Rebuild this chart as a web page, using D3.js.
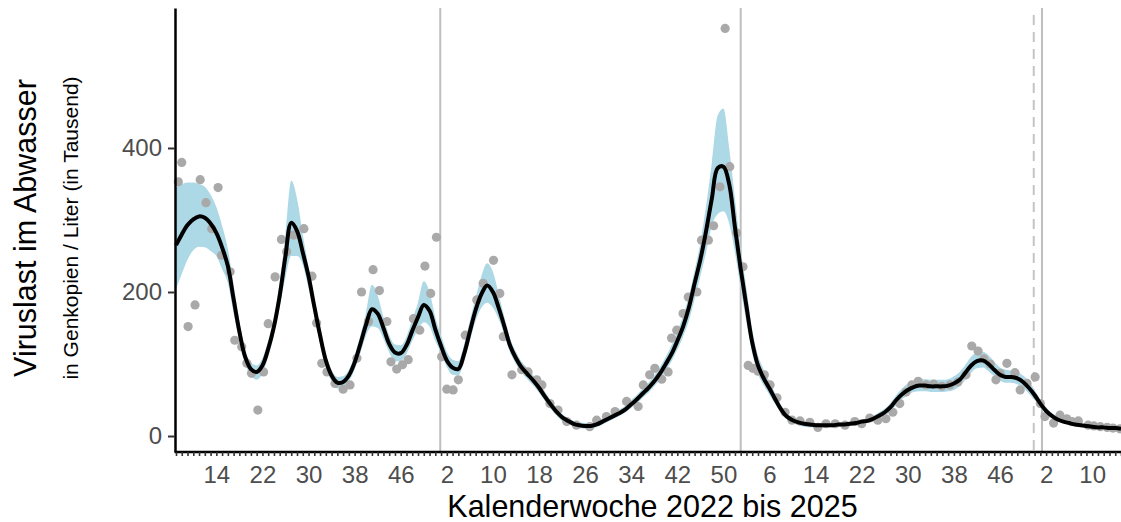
<!DOCTYPE html>
<html lang="de">
<head>
<meta charset="UTF-8">
<title>Viruslast im Abwasser</title>
<script src="https://d3js.org/d3.v7.min.js"></script>
<style>
  body { margin: 0; background: #fff; }
  svg { display: block; font-family: "Liberation Sans", Arial, sans-serif; }
</style>
</head>
<body>
<svg id="chart" width="1121" height="522"></svg>
<script>
// Wochen ab Montag KW 7/2022 (Index 0) bis KW 15/2025
const startDate = new Date(Date.UTC(2022, 1, 14));
const endDate = new Date(Date.UTC(2025, 3, 7));

// jede 8. Woche beschriftet, beginnend mit Index 7 (KW 14/2022)
const xTickLabels = ["14", "22", "30", "38", "46", "2", "10", "18", "26", "34",
                     "42", "50", "6", "14", "22", "30", "38", "46", "2", "10"];
const yTicks = [0, 200, 400];
const yearLines = ["2023-01-01", "2024-01-01", "2025-01-01"];
const dashedLine = "2024-12-22";

// geglaettete Kurve (Tausend Genkopien / Liter), eine pro Woche
const smoothValues = [
  265, 280, 293, 301, 305, 303, 295, 282, 262, 236,
  190, 145, 110, 93, 89, 98, 121, 152, 195, 250,
  296, 285, 255, 222, 180, 140, 105, 84, 74, 75,
  84, 102, 128, 155, 176, 170, 150, 128, 116, 115,
  126, 146, 165, 182, 174, 148, 125, 105, 95, 93,
  114, 145, 175, 197, 209, 200, 178, 152, 125, 108,
  95, 86, 77, 67, 55, 44, 34, 26, 21, 17,
  15, 14, 14, 16, 20, 24, 28, 32, 37, 44,
  51, 59, 67, 76, 87, 100, 114, 132, 152, 178,
  212, 245, 285, 330, 372, 374, 350, 290, 232, 180,
  130, 98, 80, 66, 51, 37, 27, 22, 19, 17,
  16, 15, 15, 15, 15, 16, 16, 17, 18, 20,
  21, 24, 28, 33, 40, 50, 58, 64, 68, 70,
  70, 69, 69, 69, 70, 73, 78, 88, 98, 104,
  105, 100, 92, 85, 82, 82, 80, 75, 67, 57,
  45, 35, 28, 23, 20, 18, 16, 15, 14, 13,
  12, 12, 11, 11, 10
];

const ribbonUpper = [
  345, 350, 352, 352, 350, 346, 335, 318, 292, 260,
  210, 160, 120, 102, 98, 108, 132, 165, 215, 280,
  355, 330, 280, 235, 192, 148, 114, 92, 82, 83,
  92, 112, 140, 172, 210, 195, 165, 140, 127, 126,
  138, 162, 185, 215, 200, 165, 140, 117, 106, 104,
  127, 160, 192, 222, 240, 228, 197, 165, 135, 117,
  103, 94, 84, 74, 62, 50, 40, 31, 25, 21,
  19, 18, 18, 20, 24, 28, 32, 37, 42, 50,
  57, 66, 74, 84, 96, 110, 126, 145, 167, 194,
  230, 268, 320, 380, 445, 455, 400, 330, 260, 205,
  148, 112, 92, 76, 59, 43, 32, 26, 22, 20,
  19, 18, 18, 18, 18, 19, 19, 20, 21, 23,
  25, 28, 33, 38, 46, 57, 66, 73, 77, 79,
  79, 78, 78, 78, 79, 83, 89, 99, 110, 116,
  117, 112, 103, 95, 92, 91, 89, 84, 76, 64,
  51, 40, 32, 26, 23, 20, 18, 17, 16, 15,
  14, 14, 13, 13, 12
];

const ribbonLower = [
  205, 225, 245, 258, 263, 262, 257, 250, 232, 212,
  170, 132, 100, 84, 78, 87, 110, 140, 180, 220,
  250, 250, 238, 205, 168, 128, 96, 76, 66, 67,
  76, 92, 115, 140, 152, 150, 135, 116, 104, 104,
  114, 132, 148, 158, 152, 132, 115, 96, 85, 84,
  103, 132, 160, 178, 185, 178, 162, 140, 116, 100,
  88, 79, 70, 60, 49, 38, 29, 21, 17, 13,
  11, 10, 10, 12, 16, 20, 24, 28, 33, 39,
  45, 53, 60, 69, 79, 91, 104, 120, 138, 160,
  190, 222, 255, 292, 308, 312, 295, 255, 205, 158,
  115, 86, 70, 57, 44, 32, 23, 18, 15, 13,
  12, 12, 12, 12, 12, 13, 13, 14, 15, 17,
  18, 21, 24, 28, 34, 43, 51, 57, 61, 62,
  62, 61, 61, 61, 62, 64, 69, 78, 88, 94,
  95, 90, 83, 77, 74, 74, 72, 67, 59, 50,
  40, 31, 25, 21, 18, 16, 14, 13, 12, 11,
  10, 10, 9, 9, 8
];

// Messwerte: Position in Wochen ab startDate, Wert
const pointWeeks = [
  0.4, 1.0, 2.1, 3.3, 4.2, 5.2, 6.2, 7.3, 7.9, 9.4,
  10.2, 11.4, 12.3, 13.1, 14.2, 15.2, 16.0, 17.2, 18.3, 19.2,
  20.4, 22.2, 23.6, 24.4, 25.3, 26.2, 27.6, 29.0, 30.2, 31.4,
  32.2, 33.4, 34.2, 35.3, 36.6, 37.3, 38.3, 39.3, 40.3, 41.2,
  42.3, 43.2, 44.2, 45.2, 46.1, 47.0, 48.1, 49.0, 50.2, 52.2,
  53.3, 55.1, 56.2, 56.8, 58.3, 60.0, 61.1, 62.6, 63.5, 64.9,
  66.3, 67.8, 69.5, 71.8, 73.0, 74.7, 76.2, 78.2, 80.2, 81.1,
  82.2, 83.1, 84.3, 85.4, 86.0, 86.9, 88.0, 88.9, 90.4, 91.2,
  92.4, 93.3, 94.4, 95.3, 96.1, 97.3, 98.4, 99.3, 100.1, 101.0,
  102.1, 103.1, 104.3, 105.7, 106.9, 108.3, 110.0, 111.4, 112.8, 114.4,
  116.1, 117.8, 119.0, 120.4, 121.8, 123.2, 124.4, 125.6, 126.7, 127.7,
  128.8, 130.2, 131.5, 132.9, 134.3, 135.7, 137.1, 138.1, 139.2, 140.2,
  141.3, 142.3, 143.0, 144.2, 145.6, 146.5, 147.7, 149.1, 150.0, 150.8,
  152.3, 153.4, 154.6, 155.5, 156.6, 158.3, 159.3, 160.4, 161.6, 162.6,
  163.8
];
const pointValues = [
  353, 380, 152, 182, 356, 324, 288, 345, 251, 228,
  133, 124, 101, 87, 36, 89, 156, 221, 273, 256,
  279, 288, 222, 157, 101, 89, 73, 65, 71, 108,
  200, 159, 231, 202, 159, 103, 93, 99, 106, 163,
  147, 236, 198, 276, 110, 65, 64, 78, 140, 189,
  212, 244, 198, 138, 85, 92, 89, 78, 71, 45,
  36, 20, 15, 13, 22, 27, 34, 48, 41, 71,
  85, 94, 79, 89, 136, 147, 170, 193, 200, 272,
  272, 292, 346, 566, 374, 282, 235, 98, 94, 90,
  85, 71, 53, 33, 22, 21, 19, 12, 17, 17,
  15, 20, 17, 25, 22, 24, 33, 45, 61, 71,
  76, 71, 72, 69, 71, 75, 85, 125, 118, 107,
  100, 78, 87, 101, 88, 64, 73, 82, 45, 27,
  18, 29, 24, 20, 21, 15, 14, 13, 12, 11,
  10
];

const svg = d3.select("#chart");
const mLeft = 176, mRight = 1121, mTop = 8, mBottom = 452;

const x = d3.scaleUtc().domain([startDate, endDate]).range([mLeft, mRight]);
const y = d3.scaleLinear().domain([-22.2, 594.4]).range([mBottom, mTop]);

const weekDates = d3.range(smoothValues.length).map(k => d3.utcMonday.offset(startDate, k));
const pointDate = w => new Date(startDate.getTime() + w * 7 * 864e5);

// Jahreswechsel
svg.append("g").selectAll("line")
  .data(yearLines)
  .join("line")
  .attr("x1", d => x(new Date(d))).attr("x2", d => x(new Date(d)))
  .attr("y1", mTop).attr("y2", mBottom)
  .attr("stroke", "#bebebe").attr("stroke-width", 2);

svg.append("line")
  .attr("x1", x(new Date(dashedLine))).attr("x2", x(new Date(dashedLine)))
  .attr("y1", 15).attr("y2", mBottom)
  .attr("stroke", "#c4c4c4").attr("stroke-width", 2)
  .attr("stroke-dasharray", "10,7");

// Konfidenzband
const area = d3.area()
  .x((d, i) => x(weekDates[i]))
  .y0((d, i) => y(ribbonLower[i]))
  .y1((d, i) => y(ribbonUpper[i]))
  .curve(d3.curveMonotoneX);
svg.append("path")
  .datum(smoothValues)
  .attr("d", area)
  .attr("fill", "#add8e6");

// Messpunkte
svg.append("g").selectAll("circle")
  .data(pointWeeks)
  .join("circle")
  .attr("cx", d => x(pointDate(d)))
  .attr("cy", (d, i) => y(pointValues[i]))
  .attr("r", 4.6)
  .attr("fill", "#a9a9a9");

// Glaettung
const line = d3.line()
  .x((d, i) => x(weekDates[i]))
  .y(d => y(d))
  .curve(d3.curveCatmullRom);
svg.append("path")
  .datum(smoothValues)
  .attr("d", line)
  .attr("fill", "none")
  .attr("stroke", "black")
  .attr("stroke-width", 4)
  .attr("stroke-linejoin", "round");

// Achsen
const xAxis = d3.axisBottom(x)
  .tickValues(weekDates)
  .tickSize(4)
  .tickSizeOuter(0)
  .tickPadding(10)
  .tickFormat((d, i) => (i >= 7 && (i - 7) % 8 === 0) ? xTickLabels[(i - 7) / 8] : "");
const gx = svg.append("g")
  .attr("transform", `translate(0,${mBottom})`)
  .call(xAxis);
gx.select(".domain").attr("stroke", "black").attr("stroke-width", 2.5)
  .attr("d", `M${mLeft - 1.3},0H${mRight}`);
gx.selectAll(".tick line").attr("stroke", "#333").attr("stroke-width", 1.6);
gx.selectAll(".tick text").attr("fill", "#4d4d4d").style("font-size", "24px")
  .style("font-family", "'Liberation Sans', Arial, sans-serif");

const yAxis = d3.axisLeft(y)
  .tickValues(yTicks)
  .tickSize(7)
  .tickSizeOuter(0)
  .tickPadding(6);
const gy = svg.append("g")
  .attr("transform", `translate(${mLeft - 1},0)`)
  .call(yAxis);
gy.select(".domain").attr("stroke", "black").attr("stroke-width", 2.5);
gy.selectAll(".tick line").attr("stroke", "#333").attr("stroke-width", 2);
gy.selectAll(".tick text").attr("fill", "#4d4d4d").style("font-size", "24px")
  .style("font-family", "'Liberation Sans', Arial, sans-serif");

// Titel
svg.append("text")
  .attr("x", (mLeft + mRight) / 2 + 4).attr("y", 517)
  .attr("text-anchor", "middle")
  .style("font-size", "30.5px")
  .text("Kalenderwoche 2022 bis 2025");

svg.append("text")
  .attr("transform", `translate(36,${(mTop + mBottom) / 2 - 2}) rotate(-90)`)
  .attr("text-anchor", "middle")
  .style("font-size", "30.5px")
  .text("Viruslast im Abwasser");

svg.append("text")
  .attr("transform", `translate(78,${(mTop + mBottom) / 2 - 2}) rotate(-90)`)
  .attr("text-anchor", "middle")
  .style("font-size", "21px")
  .text("in Genkopien / Liter (in Tausend)");
</script>
</body>
</html>
